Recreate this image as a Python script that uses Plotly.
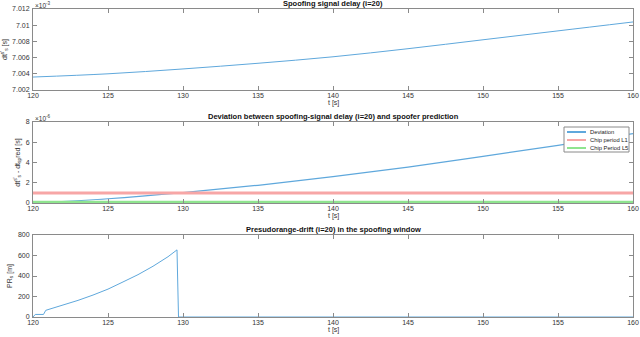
import plotly.graph_objects as go
from plotly.subplots import make_subplots

# spoofing signal delay [s]
t_delay = [120, 125, 130, 135, 140, 145, 150, 155, 160]
delay = [7.0036e-3, 7.0040e-3, 7.0046e-3, 7.0053e-3, 7.0061e-3,
         7.0071e-3, 7.0082e-3, 7.0093e-3, 7.0104e-3]

# deviation from spoofer prediction [s]
t_dev = [120, 125, 130, 135, 140, 145, 150, 155, 160]
deviation = [0.0, 0.42e-6, 1.02e-6, 1.75e-6, 2.6e-6, 3.55e-6, 4.6e-6, 5.7e-6, 6.85e-6]
chip_l1 = 1 / 1.023e6
chip_l5 = 1 / 10.23e6

# pseudorange drift [m]
t_pr = [120, 120.1, 120.15, 120.7, 120.85, 121, 122, 123, 124, 125, 126, 127,
        128, 129, 129.6, 129.7, 160]
pr = [0, 20, 25, 25, 65, 72, 115, 162, 214, 272, 342, 413, 495, 588, 655, 0, 0]

blue = '#5fa8dc'
red = '#f7a6a6'
green = '#8fe48f'
font = 'Liberation Sans, Arial, sans-serif'
txt = '#333333'

fig = make_subplots(rows=3, cols=1)

fig.add_scatter(x=t_delay, y=[d * 1e3 for d in delay], mode='lines', line_shape='spline',
                line=dict(color=blue, width=1), row=1, col=1)

fig.add_scatter(x=t_dev, y=[d * 1e6 for d in deviation], mode='lines', line_shape='spline',
                line=dict(color=blue, width=1.2), name='Deviation', row=2, col=1)
fig.add_scatter(x=[120, 160], y=[chip_l1 * 1e6] * 2, mode='lines',
                line=dict(color=red, width=3), name='Chip period L1', row=2, col=1)
fig.add_scatter(x=[120, 160], y=[chip_l5 * 1e6] * 2, mode='lines',
                line=dict(color=green, width=2.5), name='Chip Period L5', row=2, col=1)

fig.add_scatter(x=t_pr, y=pr, mode='lines', line=dict(color=blue, width=1), row=3, col=1)

H = 337
W = 640
doms = [(9, 90), (122, 203), (235, 317)]
axis_style = dict(showline=True, linecolor='#8a8a8a', linewidth=1, mirror='allticks',
                  ticks='inside', ticklen=4, tickcolor='#8a8a8a', showgrid=False,
                  zeroline=False, automargin=False,
                  tickfont=dict(size=7, color=txt, family=font))

yticks = [
    ([7.002, 7.004, 7.006, 7.008, 7.010, 7.012], ['7.002', '7.004', '7.006', '7.008', '7.01', '7.012'], [7.002, 7.012]),
    ([0, 2, 4, 6, 8], ['0', '2', '4', '6', '8'], [0, 8]),
    ([0, 200, 400, 600, 800], ['0', '200', '400', '600', '800'], [0, 800]),
]
ytitles = ["dt<sup>s'</sup><sub>s</sub> [s]",
           "dt<sup>s'</sup><sub>s</sub> - dt<sub>sp</sub>red [s]",
           "PR<sub>s</sub> [m]"]
titles = ['Spoofing signal delay (i=20)',
          'Deviation between spoofing-signal delay (i=20) and spoofer prediction',
          'Presudorange-drift (i=20) in the spoofing window']
exps = ['\u00d710<sup>-3</sup>', '\u00d710<sup>-6</sup>', None]

for i, (top, bot) in enumerate(doms):
    n = '' if i == 0 else str(i + 1)
    fig.layout['xaxis' + n].update(domain=[33 / W, 633 / W], range=[120, 160],
                                   tickvals=list(range(120, 161, 5)),
                                   ticklabelstandoff=-1, **axis_style)
    tv, tt, rng = yticks[i]
    fig.layout['yaxis' + n].update(domain=[1 - bot / H, 1 - top / H], range=rng,
                                   tickvals=tv, ticktext=tt, ticklabelstandoff=1,
                                   title=dict(text=ytitles[i], standoff=4,
                                              font=dict(size=7, color=txt, family=font)),
                                   **axis_style)
    fig.add_annotation(x=333 / W, y=1 - top / H, xref='paper', yref='paper',
                       text='<b>' + titles[i] + '</b>', showarrow=False,
                       yanchor='bottom', yshift=-1,
                       font=dict(size=7.5, color='#111111', family=font))
    fig.add_annotation(x=333 / W, y=1 - (bot + 12.5) / H, xref='paper', yref='paper',
                       text='t [s]', showarrow=False, yanchor='middle',
                       font=dict(size=7, color=txt, family=font))
    if exps[i]:
        fig.add_annotation(x=33 / W, y=1 - top / H, xref='paper', yref='paper',
                           text=exps[i], showarrow=False, xanchor='left', yanchor='bottom',
                           yshift=-2, font=dict(size=6.5, color=txt, family=font))

# compact legend box in the middle panel
fig.add_shape(type='rect', xref='paper', yref='paper',
              x0=564 / W, x1=629 / W, y0=1 - 152 / H, y1=1 - 127 / H,
              line=dict(color='#8a8a8a', width=1), fillcolor='white', layer='above')
for k, (name, col) in enumerate([('Deviation', blue), ('Chip period L1', red),
                                 ('Chip Period L5', green)]):
    yy = 1 - (132 + 8 * k) / H
    fig.add_shape(type='line', xref='paper', yref='paper', x0=567 / W, x1=586 / W,
                  y0=yy, y1=yy, line=dict(color=col, width=2), layer='above')
    fig.add_annotation(x=588 / W, y=yy, xref='paper', yref='paper', text=name,
                       showarrow=False, xanchor='left', yanchor='middle',
                       font=dict(size=5.8, color='#222222', family=font))

fig.update_layout(
    width=W, height=H,
    margin=dict(l=0, r=0, t=0, b=0),
    plot_bgcolor='white', paper_bgcolor='white',
    font=dict(family=font, size=7, color=txt),
    showlegend=False,
)

fig.write_html('out.html', config={'displayModeBar': False},
               post_script="document.body.style.margin='0px';document.body.style.overflow='hidden';")
